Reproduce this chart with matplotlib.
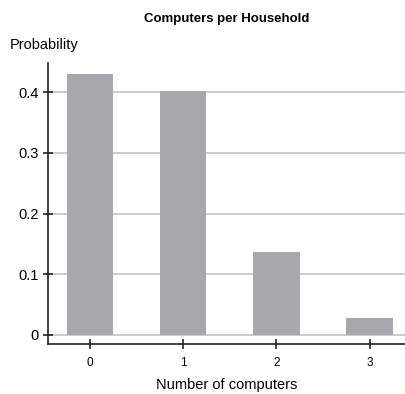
import matplotlib
matplotlib.use("Agg")
import matplotlib.pyplot as plt

categories = ["0", "1", "2", "3"]
probabilities = [0.430, 0.402, 0.137, 0.028]
yticks = [0, 0.1, 0.2, 0.3, 0.4]
ytick_labels = ["0", "0.1", "0.2", "0.3", "0.4"]

plt.rcParams['font.family'] = ['Liberation Sans', 'DejaVu Sans']

fig = plt.figure(figsize=(4.06, 3.94), dpi=100)
ax = fig.add_axes([48/406, 1-344/394, 1-48/406, (344-63)/394])

x = list(range(len(categories)))
ax.bar(x, probabilities, width=0.5, color="#a7a8ab", zorder=3)
ax.set_xlim(-0.45, 3.39)
ax.set_ylim(-0.015, 0.448)
ax.set_xticks(x)
ax.set_xticklabels(categories, fontsize=8.5)
ax.set_yticks(yticks)
ax.set_yticklabels(ytick_labels, fontsize=10.5)
ax.yaxis.grid(True, color="#c4c4c4", linewidth=1.2, zorder=0)
for s in ["top", "right"]:
    ax.spines[s].set_visible(False)
for s in ["left", "bottom"]:
    ax.spines[s].set_linewidth(1.2)
    ax.spines[s].set_color("#222222")
ax.tick_params(axis="both", direction="inout", length=7, width=1.2, color="#222222")
ax.tick_params(axis="x", pad=6)
fig.text(227/406, 1-385/394, "Number of computers", fontsize=10.5, ha="center", va="center")
fig.text(10/406, 1-45/394, "Probability", fontsize=10.5, ha="left", va="center")
fig.text(227/406, 1-19/394, "Computers per Household", fontsize=9.5, fontweight="bold", ha="center", va="center")

fig.savefig("out.png", dpi=100)
